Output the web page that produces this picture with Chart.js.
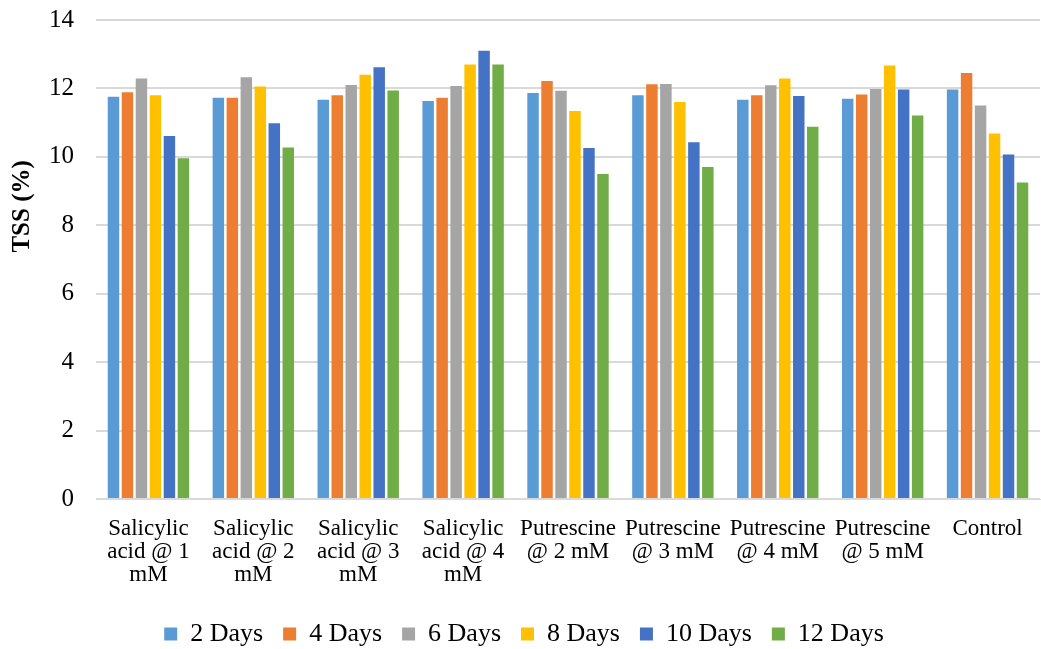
<!DOCTYPE html>
<html>
<head>
<meta charset="utf-8">
<script src="https://cdn.jsdelivr.net/npm/chart.js@4/dist/chart.umd.min.js"></script>
<style>
html,body{margin:0;padding:0;background:#fff;}
#wrap{width:1041px;height:649px;position:relative;}
</style>
</head>
<body>
<div id="wrap"><canvas id="c" width="1041" height="649"></canvas></div>
<script>
const categories = [
  ["Salicylic","acid @ 1","mM"],
  ["Salicylic","acid @ 2","mM"],
  ["Salicylic","acid @ 3","mM"],
  ["Salicylic","acid @ 4","mM"],
  ["Putrescine","@ 2 mM"],
  ["Putrescine","@ 3 mM"],
  ["Putrescine","@ 4 mM"],
  ["Putrescine","@ 5 mM"],
  ["Control"]
];
const seriesNames = ["2 Days","4 Days","6 Days","8 Days","10 Days","12 Days"];
const days2  = [11.76, 11.73, 11.67, 11.63, 11.87, 11.80, 11.67, 11.70, 11.97];
const days4  = [11.89, 11.73, 11.80, 11.73, 12.22, 12.12, 11.80, 11.82, 12.45];
const days6  = [12.29, 12.33, 12.10, 12.07, 11.93, 12.13, 12.09, 11.98, 11.50];
const days8  = [11.80, 12.06, 12.40, 12.70, 11.34, 11.60, 12.29, 12.67, 10.68];
const days10 = [10.61, 10.98, 12.62, 13.10, 10.26, 10.43, 11.78, 11.97, 10.07];
const days12 = [9.96, 10.27, 11.94, 12.70, 9.50, 9.70, 10.88, 11.21, 9.25];
const yTicks = [0, 2, 4, 6, 8, 10, 12, 14];
const yTitle = 'TSS (%)';

const colors = ["#5B9BD5","#ED7D31","#A5A5A5","#FFC000","#4472C4","#70AD47"];
const allSeries = [days2, days4, days6, days8, days10, days12];
const font = "'Liberation Serif', 'Times New Roman', serif";

new Chart(document.getElementById('c'), {
  type: 'bar',
  data: {
    labels: categories,
    datasets: allSeries.map((d, i) => ({
      label: seriesNames[i],
      data: d,
      backgroundColor: colors[i],
      borderWidth: 0,
      barPercentage: 0.82,
      categoryPercentage: 0.8
    }))
  },
  options: {
    responsive: false,
    animation: false,
    devicePixelRatio: 1,
    layout: { padding: { top: 0, right: 1, left: 8, bottom: -8 } },
    plugins: {
      legend: {
        position: 'bottom',
        labels: {
          font: { family: font, size: 26 },
          color: '#000',
          boxWidth: 13,
          boxHeight: 13,
          padding: 20
        }
      },
      tooltip: { enabled: false }
    },
    scales: {
      x: {
        grid: { display: false },
        border: { display: true, color: '#d9d9d9' },
        afterFit: (s) => { s.height += 5; },
        ticks: {
          font: { family: font, size: 23, lineHeight: 1.0 },
          color: '#000',
          maxRotation: 0,
          autoSkip: false,
          padding: 10
        }
      },
      y: {
        min: 0,
        max: 14,
        afterBuildTicks: (axis) => { axis.ticks = yTicks.map(v => ({ value: v })); },
        afterFit: (s) => { s.paddingTop = 20; },
        grid: { color: '#d9d9d9', lineWidth: 2, drawTicks: false },
        border: { display: false },
        ticks: {
          font: { family: font, size: 25 },
          color: '#000',
          padding: 22
        },
        title: {
          display: true,
          text: ' '.repeat(17) + yTitle,
          font: { family: font, size: 25, weight: 'bold' },
          color: '#000',
          padding: { top: 0, bottom: -11 }
        }
      }
    }
  }
});
</script>
</body>
</html>
